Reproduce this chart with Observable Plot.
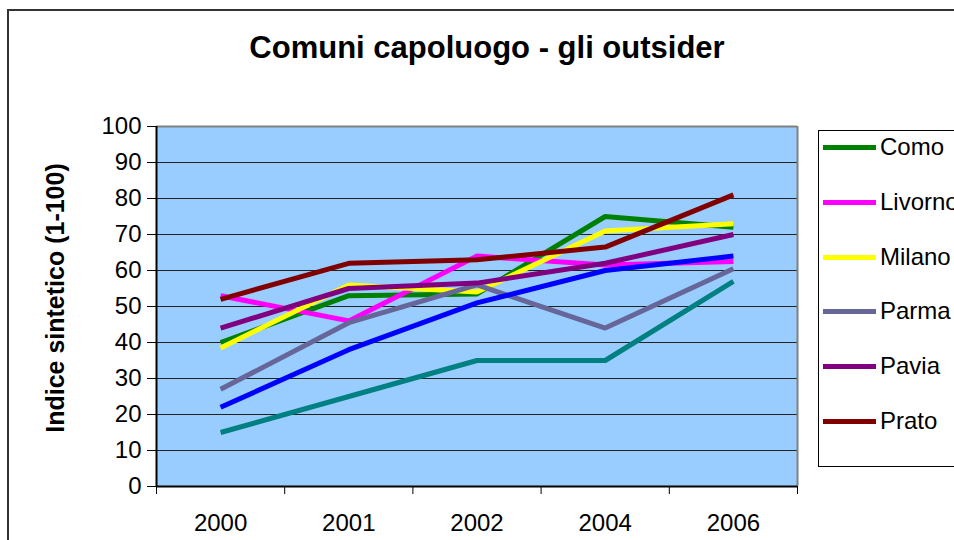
<!DOCTYPE html>
<html>
<head>
<meta charset="utf-8">
<script src="https://cdn.jsdelivr.net/npm/d3@7"></script>
<script src="https://cdn.jsdelivr.net/npm/@observablehq/plot@0.6"></script>
<style>
  html, body { margin: 0; padding: 0; background: #fff; overflow: hidden; }
  #wrap { position: relative; width: 954px; height: 540px; overflow: hidden; font-family: "Liberation Sans", Arial, sans-serif; }
  #outer { position: absolute; left: 7px; top: 9px; width: 1000px; height: 600px; border-left: 2px solid #333; border-top: 2px solid #333; }
  #chart { position: absolute; left: 0; top: 0; }
  #title { position: absolute; left: 487px; top: 33px; transform: translateX(-50%); white-space: nowrap; font-size: 31px; font-weight: bold; line-height: 30px; color: #000; }
  #ylab { position: absolute; left: 55px; top: 298px; transform: translate(-50%, -50%) rotate(-90deg); white-space: nowrap; font-size: 25px; font-weight: bold; color: #000; }
  #legend { position: absolute; left: 818px; top: 130px; width: 200px; height: 335px; border: 1.5px solid #000; background: #fff; }
  .item { position: absolute; left: 0; height: 28px; }
  .swatch { position: absolute; left: 4px; top: 11px; width: 53px; height: 5px; }
  .lab { position: absolute; left: 61px; top: -1px; font-size: 24px; line-height: 28px; white-space: nowrap; color: #000; }
</style>
</head>
<body>
<div id="wrap">
  <div id="outer"></div>
  <div id="chart"></div>
  <div id="title">Comuni capoluogo - gli outsider</div>
  <div id="ylab">Indice sintetico (1-100)</div>
  <div id="legend"></div>
</div>
<script>
// Categories (x axis)
const years = ["2000", "2001", "2002", "2004", "2006"];

// Series values
const como    = [40, 53, 53.5, 75, 72];
const livorno = [53, 46, 64, 61.5, 62.5];
const milano  = [38.5, 56, 54, 71, 73];
const parma   = [27, 45.5, 56, 44, 60.5];
const pavia   = [44, 55, 56.5, 62, 70];
const prato   = [52, 62, 63, 66.5, 81];
const serie7  = [22, 38, 51, 60, 64];
const serie8  = [15, 25, 35, 35, 57];

const yTicks = [0, 10, 20, 30, 40, 50, 60, 70, 80, 90, 100];

const series = [
  {name: "Como", color: "#008000", values: como, legend: true},
  {name: "Livorno", color: "#FF00FF", values: livorno, legend: true},
  {name: "Milano", color: "#FFFF00", values: milano, legend: true},
  {name: "Parma", color: "#666699", values: parma, legend: true},
  {name: "Pavia", color: "#800080", values: pavia, legend: true},
  {name: "Prato", color: "#800000", values: prato, legend: true},
  {name: "Serie7", color: "#0000FF", values: serie7, legend: false},
  {name: "Serie8", color: "#008080", values: serie8, legend: false}
];

const data = series.flatMap(s => s.values.map((v, i) => ({name: s.name, i, v})));
const idx = years.map((_, i) => i);
const bounds = years.map((_, i) => i - 0.5).concat([years.length - 0.5]);

const chart = Plot.plot({
  width: 954,
  height: 540,
  marginLeft: 156,
  marginRight: 157,
  marginTop: 126,
  marginBottom: 54,
  style: {fontFamily: "'Liberation Sans', Arial, sans-serif", fontSize: "24px", background: "transparent", color: "#000", overflow: "visible"},
  x: {type: "linear", domain: [-0.5, years.length - 0.5], axis: null, label: null},
  y: {domain: [0, 100], axis: null, label: null},
  color: {domain: series.map(s => s.name), range: series.map(s => s.color)},
  marks: [
    Plot.frame({fill: "#99CCFF", stroke: null}),
    Plot.ruleY(yTicks.slice(1, -1), {stroke: "#222", strokeWidth: 1}),
    Plot.ruleY([100], {stroke: "#808080", strokeWidth: 2}),
    Plot.ruleX([years.length - 0.5], {stroke: "#808080", strokeWidth: 2}),
    Plot.lineY(data, {x: "i", y: "v", z: "name", stroke: "name", strokeWidth: 5, strokeLinejoin: "miter", strokeLinecap: "butt"}),
    Plot.ruleY([0], {stroke: "#000", strokeWidth: 2}),
    Plot.ruleX([-0.5], {stroke: "#000", strokeWidth: 2}),
    Plot.axisY({ticks: yTicks, tickSize: 9, tickPadding: 6, fontSize: 24, label: null, stroke: "#000"}),
    Plot.axisX({ticks: bounds, tickSize: 8, tickFormat: () => "", label: null, stroke: "#000"}),
    Plot.axisX({ticks: idx, tickSize: 0, tickPadding: 27, fontSize: 24, tickFormat: i => years[i], label: null})
  ]
});
document.getElementById("chart").appendChild(chart);

// Legend (only the six named series, as in the reference)
const legend = document.getElementById("legend");
series.filter(s => s.legend).forEach((s, k) => {
  const item = document.createElement("div");
  item.className = "item";
  item.style.top = (17 + k * 54.8 - 14) + "px";
  const sw = document.createElement("div");
  sw.className = "swatch";
  sw.style.background = s.color;
  const lab = document.createElement("div");
  lab.className = "lab";
  lab.textContent = s.name;
  item.appendChild(sw);
  item.appendChild(lab);
  legend.appendChild(item);
});
</script>
</body>
</html>
